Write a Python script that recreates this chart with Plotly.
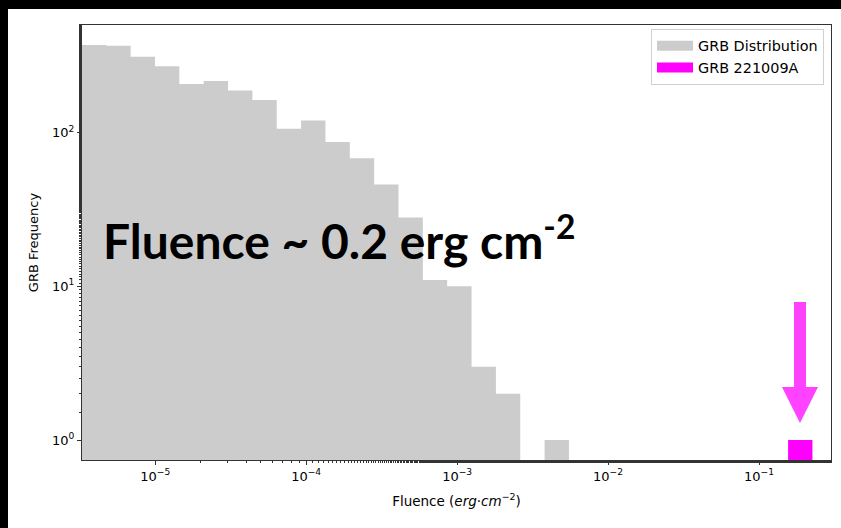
import numpy as np
import plotly.graph_objects as go

# ---------------- data ----------------
fluence_min = 3.27e-6      # lowest bin edge (erg cm^-2)
fluence_max = 0.226        # highest bin edge (erg cm^-2)
n_bins = 30
grb_counts = [372, 367, 311, 270, 207, 217, 188, 163, 106, 120,
              87, 68, 46, 28, 11, 10, 3, 2, 0, 1,
              0, 0, 0, 0, 0, 0, 0, 0, 0, 0]
grb221009a_counts = [0] * 29 + [1]
series_names = ["GRB Distribution", "GRB 221009A"]
series_colors = ["#cccccc", "#ff00ff"]
y_tick_values = [1, 10, 100]
y_tick_labels = ["10<sup>0</sup>", "10<sup>1</sup>", "10<sup>2</sup>"]
x_tick_values = [1e-5, 1e-4, 1e-3, 1e-2, 1e-1]
x_tick_labels = ["10<sup>−5</sup>", "10<sup>−4</sup>", "10<sup>−3</sup>", "10<sup>−2</sup>", "10<sup>−1</sup>"]
annotation_text = "Fluence ~ 0.2 erg cm<sup>-2</sup>"

edges = np.logspace(np.log10(fluence_min), np.log10(fluence_max), n_bins + 1)

# figure geometry (pixels)
W, H = 841, 528
L, R, T, B = 82, 10, 25, 68
PW, PH = W - L - R, H - T - B


def px(x):
    return (x - L) / PW


def py(y):
    return (H - B - y) / PH


def step_polygon(counts):
    xs, ys = [], []
    floor = 1e-3
    for i, c in enumerate(counts):
        if c <= 0:
            continue
        xs += [edges[i], edges[i], edges[i + 1], edges[i + 1], edges[i], None]
        ys += [floor, c, c, floor, floor, None]
    return xs, ys


fig = go.Figure()
for counts, name, color in zip([grb_counts, grb221009a_counts], series_names, series_colors):
    xs, ys = step_polygon(counts)
    fig.add_trace(go.Scatter(x=xs, y=ys, mode="lines", fill="toself",
                             fillcolor=color, line=dict(width=0, color=color),
                             name=name, legendgroup=name, showlegend=False,
                             hoverinfo="skip"))
    # legend patch (30 x 10 px like matplotlib's patch handle)
    fig.add_trace(go.Scatter(x=[None], y=[None], mode="lines",
                             line=dict(width=10, color=color),
                             name=name, legendgroup=name, showlegend=True))

axis_common = dict(
    type="log", showgrid=False, zeroline=False, showline=True, linecolor="#333333",
    linewidth=1, mirror=True, ticks="outside", ticklen=4, tickwidth=1, tickcolor="#333333",
    tickfont=dict(family="DejaVu Sans", size=13, color="black"),
    minor=dict(ticks="outside", ticklen=2, tickcolor="#333333", showgrid=False),
)

fig.update_xaxes(**axis_common, range=[-5.485, -0.523],
                 tickmode="array", tickvals=x_tick_values, ticktext=x_tick_labels,
                 title=dict(text="Fluence (<i>erg</i>·<i>cm</i><sup>−2</sup>)",
                            font=dict(family="DejaVu Sans", size=13.5, color="black"),
                            standoff=13))
fig.update_yaxes(**axis_common, range=[-0.13, 2.70],
                 tickmode="array", tickvals=y_tick_values, ticktext=y_tick_labels,
                 title=dict(text="GRB Frequency",
                            font=dict(family="DejaVu Sans", size=13, color="black"),
                            standoff=10))

# white figure area on the black slide background
fig.add_shape(type="rect", xref="paper", yref="paper", x0=px(8), x1=px(W + 100),
              y0=py(H + 100), y1=py(9), fillcolor="white", line=dict(width=0), layer="below")

# arrow
ax = [794, 806, 806, 818, 800, 782, 794, 794]
ay = [302, 302, 387, 387, 423, 387, 387, 302]
path = "M " + " L ".join(f"{px(a):.5f},{py(b):.5f}" for a, b in zip(ax, ay)) + " Z"
fig.add_shape(type="path", xref="paper", yref="paper", path=path,
              fillcolor="rgba(255,0,255,0.74)", line=dict(width=0))

fig.add_annotation(text=annotation_text, xref="paper", yref="paper",
                   x=px(101), y=py(237), xanchor="left", yanchor="middle", showarrow=False,
                   font=dict(family="Lato", size=48, color="black", weight="bold"))

fig.update_layout(
    width=W, height=H, margin=dict(l=L, r=R, t=T, b=B),
    paper_bgcolor="black", plot_bgcolor="white",
    showlegend=True,
    legend=dict(x=px(651), y=py(29), xanchor="left", yanchor="top",
                bgcolor="rgba(255,255,255,0.8)", bordercolor="#d0d0d0", borderwidth=1,
                font=dict(family="DejaVu Sans", size=14.4, color="black"),
                itemwidth=36, tracegroupgap=0),
)

fig.write_html("out.html")
